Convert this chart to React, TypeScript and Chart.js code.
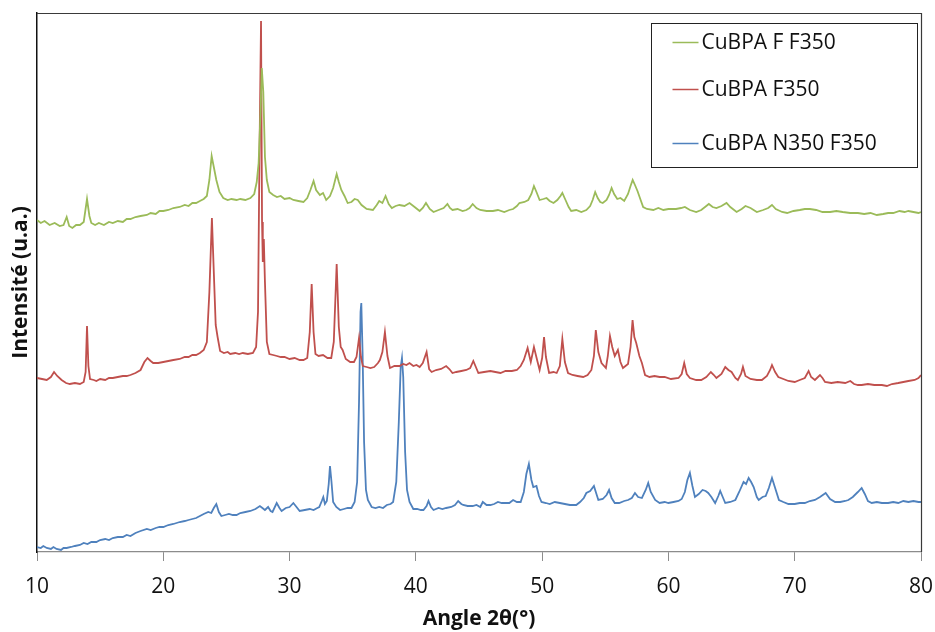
import React, { useEffect, useRef } from "react";
import { Chart, registerables } from "chart.js";

Chart.register(...registerables);

const seriesLabels = ["CuBPA F F350", "CuBPA F350", "CuBPA N350 F350"];
const seriesColors = ["#9BBB59", "#C0504D", "#4F81BD"];
const xTicks = [10, 20, 30, 40, 50, 60, 70, 80];

// CuBPA F F350 (green)
const greenAngle = [10.0,10.3,10.6,11.0,11.4,11.8,12.1,12.35,12.55,12.8,13.1,13.4,13.7,13.96,14.15,14.3,14.6,14.9,15.3,15.7,16.0,16.4,16.8,17.1,17.4,17.8,18.2,18.7,19.0,19.4,19.7,20.0,20.4,20.8,21.3,21.7,22.0,22.3,22.6,22.9,23.2,23.45,23.65,23.83,24.0,24.2,24.45,24.75,25.1,25.4,25.8,26.1,26.5,26.9,27.2,27.4,27.55,27.7,27.8,27.92,28.05,28.2,28.4,28.7,29.0,29.3,29.6,30.0,30.3,30.7,31.1,31.4,31.65,31.9,32.1,32.4,32.65,32.9,33.2,33.45,33.73,33.9,34.1,34.35,34.6,34.9,35.15,35.4,35.7,36.1,36.6,36.9,37.1,37.35,37.6,37.85,38.1,38.4,38.7,39.1,39.5,39.9,40.3,40.55,40.8,41.1,41.4,41.8,42.2,42.5,42.7,42.9,43.3,43.7,44.0,44.25,44.5,44.8,45.1,45.6,46.1,46.5,47.0,47.4,47.7,48.0,48.2,48.6,48.9,49.15,49.35,49.55,49.8,50.1,50.35,50.6,50.9,51.2,51.45,51.6,51.85,52.1,52.3,52.7,53.1,53.5,53.8,54.0,54.2,54.4,54.6,54.8,55.1,55.3,55.5,55.7,55.95,56.2,56.5,56.8,57.0,57.17,57.35,57.55,57.8,58.0,58.3,58.8,59.2,59.6,60.0,60.6,61.0,61.3,61.7,62.2,62.6,62.9,63.2,63.5,63.8,64.2,64.6,64.9,65.4,65.8,66.1,66.5,67.0,67.5,67.9,68.2,68.5,69.0,69.4,69.9,70.4,70.8,71.2,71.7,72.2,72.8,73.3,73.8,74.4,75.0,75.5,76.0,76.5,77.0,77.4,77.8,78.3,78.7,79.0,79.4,79.8,80.0];
const greenIntensity = [332,329,331,327,329,326,327,335,326,324,327,327,330,353,336,329,327,329,327,330,329,331,330,333,333,335,336,337,339,338,341,341,342,344,345,347,346,349,349,351,353,356,372,396,385,372,360,354,352,353,352,353,352,354,358,370,389,440,484,460,395,372,360,357,355,356,353,354,352,351,350,354,362,371,362,357,359,352,356,364,378,370,362,356,349,350,353,352,347,343,342,347,351,349,356,348,344,346,347,346,349,345,341,344,349,343,340,342,344,348,344,342,343,341,342,344,348,344,342,341,341,342,340,342,343,346,349,350,352,358,366,360,352,353,354,351,349,352,356,359,352,345,341,342,340,342,346,352,360,354,350,349,352,357,364,358,353,354,351,358,366,372,367,361,352,345,343,342,344,342,343,343,344,345,342,340,342,345,348,345,344,346,349,345,340,343,346,344,340,342,344,347,343,340,339,341,342,343,343,342,340,340,341,340,339,339,338,339,337,338,339,339,341,340,341,340,339,340];

// CuBPA F350 (red)
const redAngle = [10.0,10.4,10.77,11.1,11.35,11.6,11.95,12.3,12.6,13.0,13.4,13.7,13.85,13.96,14.07,14.2,14.5,14.7,15.0,15.4,15.7,16.0,16.4,16.8,17.1,17.4,17.8,18.2,18.5,18.75,19.0,19.2,19.6,20.0,20.4,20.8,21.3,21.7,22.0,22.3,22.6,22.9,23.2,23.45,23.65,23.85,24.0,24.15,24.3,24.5,24.8,25.1,25.3,25.7,26.0,26.3,26.7,27.1,27.35,27.5,27.62,27.74,27.82,27.88,27.96,28.05,28.2,28.4,28.7,29.0,29.3,29.6,30.0,30.4,30.8,31.1,31.4,31.6,31.75,31.9,32.05,32.3,32.65,33.0,33.3,33.5,33.73,33.9,34.05,34.2,34.45,34.8,35.1,35.3,35.5,35.65,35.8,36.1,36.4,36.7,37.0,37.15,37.35,37.55,37.75,37.95,38.3,38.7,39.0,39.25,39.5,39.8,40.05,40.3,40.55,40.85,41.05,41.25,41.6,42.0,42.4,42.65,42.9,43.2,43.6,44.0,44.3,44.55,44.75,44.95,45.4,45.9,46.3,46.7,47.1,47.6,48.0,48.3,48.55,48.85,49.1,49.35,49.6,49.8,50.0,50.15,50.3,50.55,50.9,51.15,51.4,51.6,51.8,52.05,52.4,52.8,53.25,53.6,53.9,54.1,54.25,54.45,54.7,55.05,55.2,55.37,55.55,55.75,56.0,56.2,56.4,56.8,57.0,57.16,57.3,57.45,57.7,57.9,58.15,58.5,58.9,59.3,59.7,60.2,60.8,61.05,61.25,61.45,61.7,62.2,62.6,63.0,63.36,63.6,63.8,64.2,64.5,64.75,65.0,65.3,65.5,65.75,65.9,66.1,66.5,67.0,67.4,67.8,68.05,68.2,68.45,68.7,69.1,69.5,70.0,70.4,70.8,71.1,71.3,71.6,72.0,72.2,72.4,72.9,73.4,74.0,74.4,74.7,75.0,75.3,75.8,76.3,76.9,77.3,77.7,78.2,78.6,79.0,79.5,79.8,80.0];
const redIntensity = [174,173,172,175,180,176,172,169,168,169,168,170,180,226,186,173,172,171,173,172,174,174,175,176,176,177,179,182,190,194,191,189,189,190,191,192,193,195,195,197,197,199,202,210,260,334,280,227,215,201,199,200,198,199,198,199,198,199,205,240,400,531,330,290,313,270,210,198,197,196,195,195,193,194,192,192,194,220,268,220,198,196,197,194,194,210,288,225,205,202,193,190,190,195,214,195,186,185,184,185,189,192,200,220,196,184,186,186,188,187,189,186,187,185,189,200,183,180,182,183,186,183,179,180,181,182,184,191,185,179,180,181,180,179,181,181,182,186,192,204,190,205,192,182,194,215,195,179,180,179,186,213,190,179,177,176,175,177,182,196,222,200,189,184,196,216,205,196,202,190,184,188,205,232,215,209,196,189,177,175,176,175,175,173,174,178,189,178,174,172,172,175,180,177,174,178,185,182,180,174,172,178,185,176,173,172,172,176,182,187,180,175,173,171,170,172,174,181,175,172,177,174,170,169,170,169,171,168,167,167,168,167,167,166,168,169,170,171,172,174,177];

// CuBPA N350 F350 (blue)
const blueAngle = [10.0,10.3,10.5,10.77,11.1,11.3,11.55,11.9,12.1,12.35,12.7,13.0,13.4,13.7,14.0,14.3,14.7,15.0,15.4,15.7,16.0,16.4,16.8,17.1,17.4,17.8,18.2,18.7,19.0,19.4,19.7,20.0,20.4,20.8,21.3,21.7,22.0,22.3,22.6,22.9,23.2,23.56,23.8,24.0,24.2,24.4,24.6,24.9,25.2,25.5,25.8,26.1,26.5,26.9,27.3,27.65,27.85,28.05,28.3,28.5,28.65,28.98,29.2,29.37,29.7,30.0,30.3,30.55,30.8,31.2,31.6,31.9,32.2,32.35,32.55,32.67,32.8,32.95,33.1,33.2,33.32,33.45,33.7,34.0,34.3,34.6,34.9,35.15,35.35,35.5,35.62,35.68,35.78,35.9,36.05,36.2,36.5,36.8,37.1,37.4,37.7,38.0,38.2,38.45,38.65,38.8,38.9,39.0,39.15,39.3,39.5,39.8,40.1,40.4,40.6,40.85,41.0,41.2,41.4,41.8,42.1,42.4,42.8,43.1,43.35,43.6,43.75,44.1,44.5,44.8,45.1,45.3,45.6,45.9,46.2,46.5,46.8,47.1,47.4,47.7,48.0,48.3,48.55,48.75,48.95,49.15,49.3,49.55,49.75,49.95,50.3,50.6,51.0,51.4,51.8,52.2,52.7,53.0,53.3,53.5,53.8,54.1,54.3,54.45,54.8,55.1,55.3,55.5,55.75,56.1,56.5,56.8,57.1,57.35,57.6,57.9,58.2,58.4,58.6,58.95,59.3,59.7,60.0,60.4,60.8,61.05,61.3,61.5,61.7,61.9,62.1,62.4,62.7,62.95,63.15,63.4,63.7,63.95,64.1,64.3,64.5,64.9,65.3,65.6,65.95,66.15,66.35,66.55,66.75,67.0,67.15,67.45,67.7,67.95,68.2,68.45,68.75,69.1,69.5,70.0,70.4,70.8,71.2,71.6,72.0,72.45,72.8,73.2,73.6,74.0,74.25,74.6,75.0,75.3,75.55,75.8,76.1,76.5,76.9,77.4,77.8,78.2,78.6,79.0,79.4,79.8,80.0];
const blueIntensity = [5,4,6,4,3,5,3,2,4,4,5,6,7,9,8,10,10,12,13,12,14,15,15,17,16,19,21,23,22,24,25,25,27,28,30,31,32,33,34,36,38,40,39,44,48,40,36,37,38,37,37,39,40,41,43,46,44,42,45,41,40,49,44,41,44,45,49,45,41,42,43,42,44,45,51,55,48,51,68,86,70,50,45,42,43,44,44,50,70,150,240,249,200,110,62,52,45,44,45,44,47,48,50,70,130,185,194,175,100,62,50,43,43,42,42,46,51,45,42,44,43,44,45,47,51,48,47,46,46,47,45,50,47,47,48,50,49,49,49,52,50,50,60,78,88,72,65,66,56,50,49,48,50,49,48,47,47,50,54,59,61,66,58,52,53,57,62,54,49,49,51,52,54,59,55,54,62,69,60,52,49,50,49,50,51,53,60,72,79,66,55,58,62,61,59,55,49,56,61,55,49,50,52,60,70,68,74,70,65,55,52,55,56,64,74,64,52,50,48,48,49,49,51,52,55,59,53,50,50,51,52,55,60,64,58,51,49,50,49,49,50,49,51,50,51,50,50];

const toPoints = (xs: number[], ys: number[]) => xs.map((x, i) => ({ x, y: ys[i] }));

const FONT = "'Open Sans', 'Noto Sans', sans-serif";

const framePlugin = {
  id: "frame",
  afterDraw(chart: any) {
    const { ctx, chartArea } = chart;
    const { left, right, top, bottom } = chartArea;
    ctx.save();
    ctx.lineWidth = 1.2;
    ctx.strokeStyle = "#3a3a3a";
    ctx.beginPath();
    ctx.moveTo(left, top + 0.5);
    ctx.lineTo(right + 0.5, top + 0.5);
    ctx.lineTo(right + 0.5, bottom);
    ctx.stroke();
    // legend box
    const bx = right - 270 + 0.5;
    const by = top + 10 + 0.5;
    const bw = 266;
    const bh = 144;
    ctx.fillStyle = "#ffffff";
    ctx.fillRect(bx, by, bw, bh);
    ctx.lineWidth = 1;
    ctx.strokeStyle = "#222222";
    ctx.strokeRect(bx, by, bw, bh);
    const rowsY = [by + 19, by + 66, by + 120];
    ctx.font = `21px ${FONT}`;
    ctx.textBaseline = "middle";
    ctx.textAlign = "left";
    chart.data.datasets.forEach((ds: any, i: number) => {
      const y = rowsY[i];
      ctx.strokeStyle = ds.borderColor;
      ctx.lineWidth = 1.5;
      ctx.beginPath();
      ctx.moveTo(bx + 21, y);
      ctx.lineTo(bx + 47, y);
      ctx.stroke();
      ctx.fillStyle = "#111111";
      ctx.fillText(ds.label, bx + 50, y + 1);
    });
    ctx.restore();
  },
};

export default function App() {
  const canvasRef = useRef<HTMLCanvasElement | null>(null);

  useEffect(() => {
    const canvas = canvasRef.current;
    if (!canvas) return;
    const datasets = [
      { label: seriesLabels[0], data: toPoints(greenAngle, greenIntensity), borderColor: seriesColors[0] },
      { label: seriesLabels[1], data: toPoints(redAngle, redIntensity), borderColor: seriesColors[1] },
      { label: seriesLabels[2], data: toPoints(blueAngle, blueIntensity), borderColor: seriesColors[2] },
    ].map((d) => ({
      ...d,
      backgroundColor: d.borderColor,
      borderWidth: 1.8,
      pointRadius: 0,
      tension: 0,
      fill: false,
    }));

    const chart = new Chart(canvas, {
      type: "line",
      data: { datasets },
      plugins: [framePlugin],
      options: {
        responsive: false,
        animation: false,
        devicePixelRatio: 1,
        layout: { padding: { top: 13, right: 14, left: 0, bottom: 0 } },
        plugins: { legend: { display: false }, tooltip: { enabled: false } },
        scales: {
          x: {
            type: "linear",
            min: 10,
            max: 80,
            afterFit: (scale: any) => {
              scale.height = 80;
              scale.paddingLeft = 0;
              scale.paddingRight = 0;
            },
            afterBuildTicks: (scale: any) => {
              scale.ticks = xTicks.map((v) => ({ value: v }));
            },
            ticks: {
              font: { family: FONT, size: 21 },
              color: "#111111",
              padding: 13,
              maxRotation: 0,
              autoSkip: false,
            },
            grid: {
              display: true,
              drawOnChartArea: false,
              drawTicks: true,
              tickLength: 9,
              color: "#8c8c8c",
              lineWidth: 1,
            },
            border: { display: true, color: "#8c8c8c", width: 1.2 },
            title: {
              display: true,
              text: "Angle 2θ(°)",
              font: { family: FONT, size: 21, weight: "bold" },
              color: "#111111",
              padding: { top: 0, bottom: 0 },
            },
          },
          y: {
            type: "linear",
            min: 0,
            max: 539,
            afterFit: (scale: any) => {
              scale.width = 37;
            },
            ticks: { display: false },
            grid: { display: false },
            border: { display: true, color: "#111111", width: 1.5 },
            title: {
              display: true,
              text: "Intensité (u.a.)",
              font: { family: FONT, size: 21, weight: "bold" },
              color: "#111111",
              padding: { top: 8, bottom: 0 },
            },
          },
        },
      },
    });
    return () => chart.destroy();
  }, []);

  return (
    <div style={{ position: "fixed", left: 0, top: 0, width: 935, height: 632, background: "#ffffff" }}>
      <canvas ref={canvasRef} width={935} height={632} style={{ width: 935, height: 632, display: "block" }} />
    </div>
  );
}
